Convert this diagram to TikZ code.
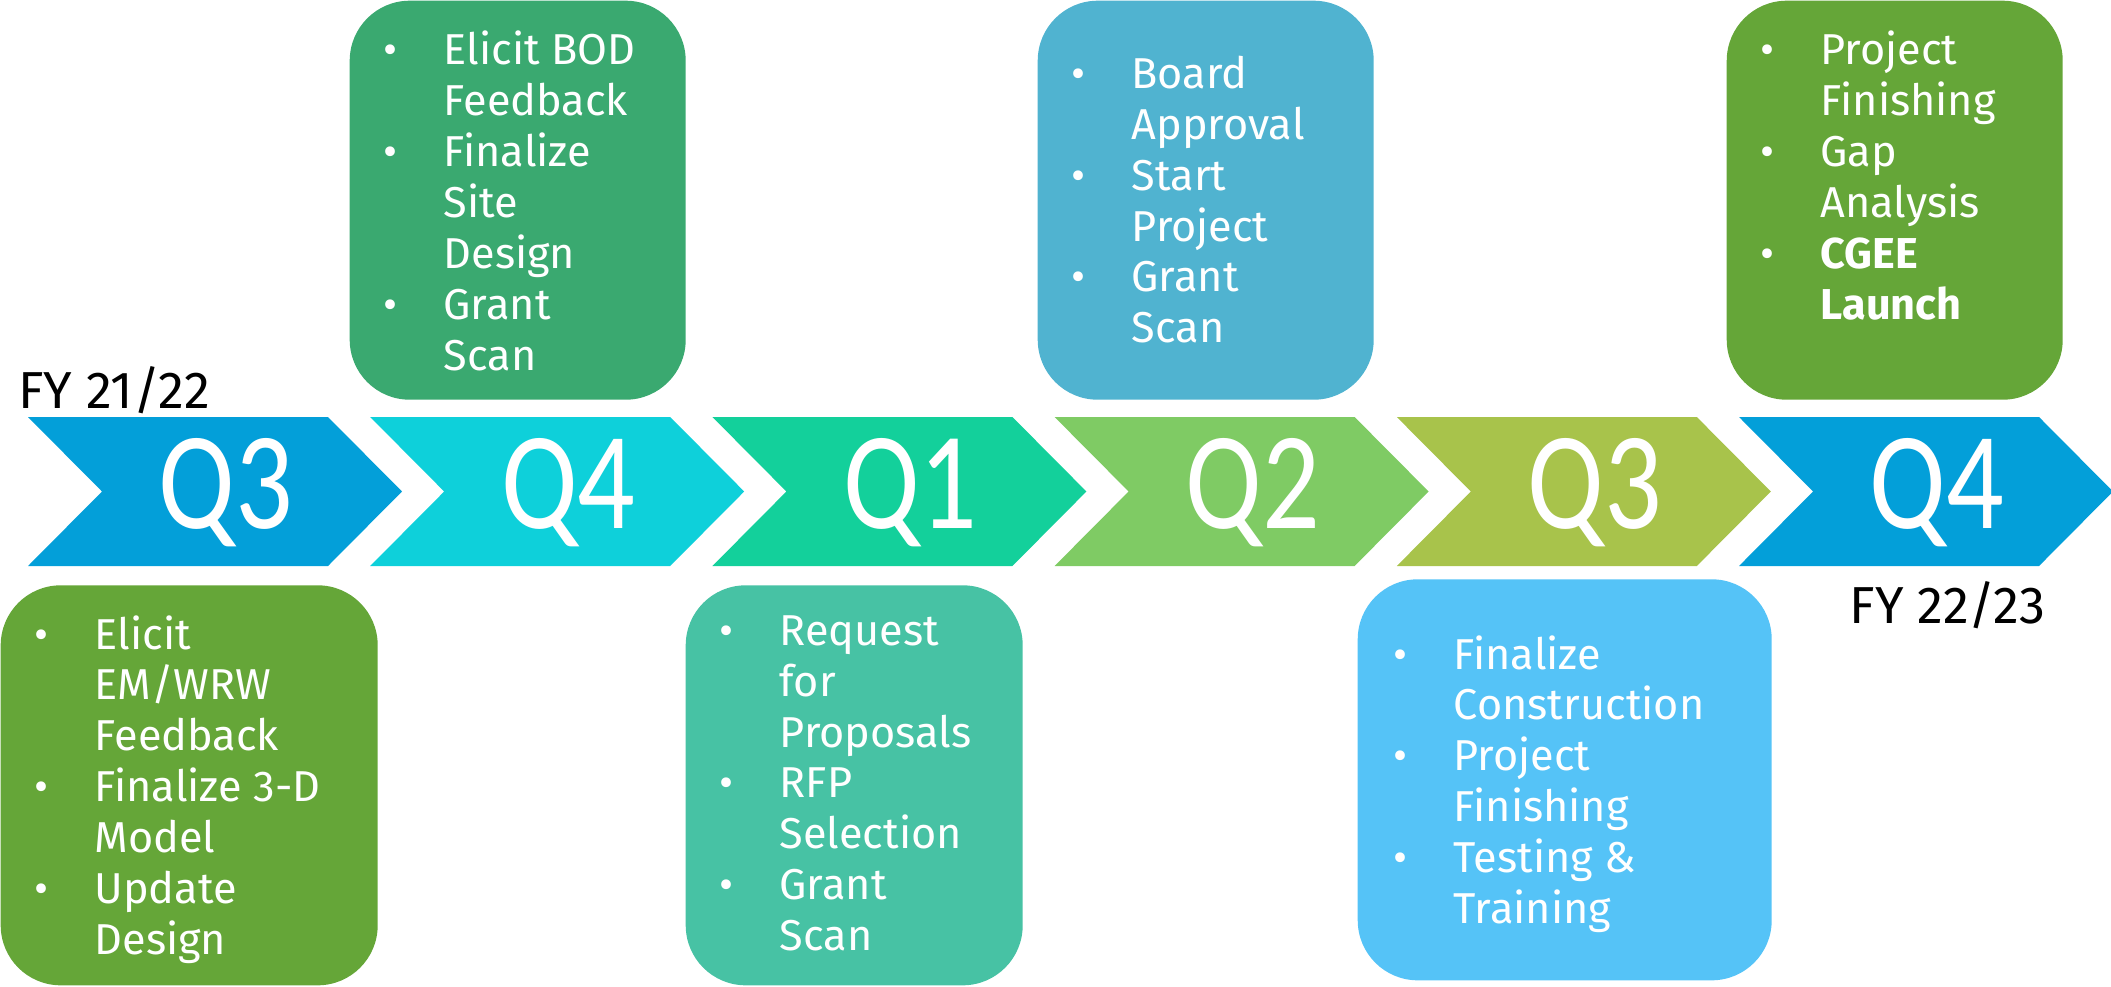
\documentclass[tikz,border=0pt]{standalone}
\usepackage{fontspec}
\setmainfont{Fira Sans}
\newfontfamily\qfont[FakeStretch=0.82]{Carlito}
\usetikzlibrary{positioning}

\definecolor{chevA}{HTML}{039FD9}
\definecolor{chevB}{HTML}{0ED0DA}
\definecolor{chevC}{HTML}{13D09B}
\definecolor{chevD}{HTML}{7FCB64}
\definecolor{chevE}{HTML}{A8C34B}
\definecolor{boxGreen}{HTML}{65A638}
\definecolor{boxSea}{HTML}{3AA970}
\definecolor{boxTeal}{HTML}{47C2A4}
\definecolor{boxSteel}{HTML}{50B3D0}
\definecolor{boxSky}{HTML}{55C3F7}

\tikzset{
  box/.style={fill=#1,rounded corners=0.6cm,inner sep=0pt,minimum width=3.36cm,minimum height=3.99cm},
  items/.style={text=white,align=left,inner sep=0pt,font=\fontsize{12.3}{14.5}\selectfont},
  qlabel/.style={text=white,anchor=base,inner sep=0pt,font=\qfont\fontsize{39.5}{40}\selectfont},
  fy/.style={anchor=base west,inner sep=0pt,font=\fontsize{14.8}{17}\selectfont}
}
\newcommand{\itm}{\makebox[0.6cm][l]{\textbullet}}
\newcommand{\ind}{\hspace*{0.6cm}}

\begin{document}
\begin{tikzpicture}
\useasboundingbox (0,0) rectangle (21.11,9.86);

% quarters
\foreach \col/\qn [count=\i from 0] in {chevA/3,chevB/4,chevC/1,chevD/2,chevE/3,chevA/4}{
  \pgfmathsetmacro\x{0.28+3.422*\i}
  \fill[\col] (\x,5.69) -- ++(3,0) -- ++(0.74,-0.745) -- ++(-0.74,-0.745) -- ++(-3,0) -- ++(0.74,0.745) -- cycle;
  \node[qlabel] (q\i) at (\x+1.98,4.58) {Q\qn};
}

\node[fy] (fy1) at (0.18,5.78) {FY 21/22};
\node[fy] (fy2) at (18.49,3.63) {FY 22/23};

% boxes
\node[box=boxGreen,anchor=south west,minimum width=3.77cm,minimum height=4cm] (b1) at (0,0) {};
\node[box=boxSea,anchor=north west] (t2) at (3.49,9.86) {};
\node[box=boxTeal,anchor=south west,minimum width=3.37cm,minimum height=4cm] (b3) at (6.85,0) {};
\node[box=boxSteel,anchor=north west] (t4) at (10.37,9.86) {};
\node[box=boxSky,anchor=south west,minimum width=4.14cm,minimum height=4.01cm] (b5) at (13.57,0.05) {};
\node[box=boxGreen,anchor=north west] (t6) at (17.26,9.86) {};

\node[items,below right=0.30cm and 0.34cm of b1.north west] (b1txt) {\itm Elicit\\ \ind EM/WRW\\ \ind Feedback\\ \itm Finalize 3-D\\ \ind Model\\ \itm Update\\ \ind Design};
\node[items,below right=0.30cm and 0.34cm of t2.north west] (t2txt) {\itm Elicit BOD\\ \ind Feedback\\ \itm Finalize\\ \ind Site\\ \ind Design\\ \itm Grant\\ \ind Scan};
\node[items,below right=0.30cm and 0.34cm of b3.north west] (b3txt) {\itm Request\\ \ind for\\ \ind Proposals\\ \itm RFP\\ \ind Selection\\ \itm Grant\\ \ind Scan};
\node[items,below right=0.55cm and 0.34cm of t4.north west] (t4txt) {\itm Board\\ \ind Approval\\ \itm Start\\ \ind Project\\ \itm Grant\\ \ind Scan};
\node[items,below right=0.56cm and 0.36cm of b5.north west] (b5txt) {\itm Finalize\\ \ind Construction\\ \itm Project\\ \ind Finishing\\ \itm Testing \&\\ \ind Training};
\node[items,below right=0.30cm and 0.34cm of t6.north west] (t6txt) {\itm Project\\ \ind Finishing\\ \itm Gap\\ \ind Analysis\\ \itm \textbf{CGEE}\\ \ind \textbf{Launch}};
\end{tikzpicture}
\end{document}
